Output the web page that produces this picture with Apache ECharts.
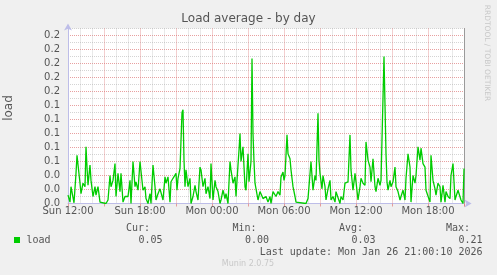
<!DOCTYPE html>
<html>
<head>
<meta charset="utf-8">
<script src="https://cdn.jsdelivr.net/npm/echarts@6/dist/echarts.min.js"></script>
<style>
html,body{margin:0;padding:0;background:#F0F0F0;}
#c{width:497px;height:275px;}
</style>
</head>
<body>
<div id="c"></div>
<script>
// Minutes after Sun 12:00, load average
const sampleMinutes = [
  0,10,15,30,40,45,50,60,65,75,85,90,95,100,110,115,125,135,140,150,
  160,165,190,200,210,215,225,235,240,250,260,265,275,285,300,310,315,325,335,340,
  350,360,365,375,385,390,400,410,415,425,435,440,450,460,465,475,485,490,500,510,
  515,525,535,540,545,550,560,570,575,580,585,590,600,610,615,625,635,640,650,660,
  665,675,685,690,700,710,715,725,735,740,750,760,765,775,785,790,800,810,815,825,
  835,840,850,855,860,865,875,885,890,900,905,910,915,920,925,930,935,940,950,960,
  965,975,985,990,1000,1010,1015,1025,1035,1040,1050,1060,1065,1075,1080,1085,1095,1100,1110,1115,
  1125,1135,1140,1150,1190,1200,1210,1215,1225,1235,1240,1250,1255,1260,1270,1275,1285,1290,1300,1310,
  1315,1325,1335,1340,1350,1360,1365,1375,1385,1390,1400,1410,1415,1425,1435,1440,1450,1460,1465,1475,
  1485,1490,1500,1510,1515,1525,1535,1540,1550,1560,1565,1575,1580,1590,1595,1600,1610,1615,1625,1635,
  1640,1650,1660,1665,1675,1685,1690,1700,1710,1715,1725,1735,1740,1750,1760,1765,1775,1785,1790,1800,
  1810,1815,1825,1835,1840,1850,1860,1865,1875,1885,1890,1900,1910,1915,1925,1935,1940,1950,1960,1965,
  1975,1980
];
const loadValues = [
  .012,.002,.024,.001,.043,.069,.071,.029,.014,.029,.024,.081,.052,.026,.055,.033,.010,.024,.012,.024,
  .002,0,0,.005,.040,.024,.033,.057,.010,.043,.017,.043,.002,.010,.010,.033,0,.060,.024,.031,
  .019,.060,.060,.019,.024,.007,0,.014,0,.055,.024,.005,.014,.021,.019,.005,.038,.029,.038,.002,
  .031,.036,.036,.043,.019,.036,.050,.130,.134,.062,.024,.048,.024,.036,0,.010,.026,.017,.005,.052,
  .048,.024,.036,.014,.024,.007,.057,.005,.033,.024,.017,0,.005,.019,.007,.014,0,.060,.048,.029,
  .038,.010,.055,.076,.100,.060,.081,.024,.019,.071,.031,.031,.060,.207,.100,.060,.029,.031,.005,.017,
  .019,.007,.005,.010,.002,.010,0,.017,.019,.010,.017,.012,.038,.045,.033,.040,.098,.071,.064,.048,
  .024,.010,.002,0,0,.007,.005,.060,.019,.040,.033,.129,.062,.043,.021,.040,.024,.005,.021,.033,
  .005,.010,.002,.017,.019,0,.010,.005,.029,.029,.031,.098,.048,.019,.043,.031,.005,.024,.036,.029,
  .026,.088,.062,.052,.031,.064,.024,.017,.036,.026,.033,.031,.210,.071,.031,.019,.033,.024,.031,.052,
  .024,.017,.005,.010,.019,.005,.036,.071,.052,.002,.040,.029,.040,.081,.062,.079,.057,.052,.019,.017,
  .002,.069,.033,.021,.012,.029,.024,.002,.026,.002,.017,.010,.007,.040,.057,.005,.010,.019,.019,.005,
  0,.050
];
const xTickLabels = ['Sun 12:00','Sun 18:00','Mon 00:00','Mon 06:00','Mon 12:00','Mon 18:00'];
const legendHeaders = ['Cur:','Min:','Avg:','Max:'];
const legendStats = ['0.05','0.00','0.03','0.21'];
const seriesName = 'load';
const titleText = 'Load average - by day';
const yAxisTitle = 'load';
const lastUpdate = 'Last update: Mon Jan 26 21:00:10 2026';
const footer = 'Munin 2.0.75';
const sideText = 'RRDTOOL / TOBI OETIKER';

const data = sampleMinutes.map((m, i) => [m, loadValues[i]]);

const RED = 'rgba(222,120,120,0.7)';
const GRAY = 'rgba(170,170,170,0.5)';
const AXIS = '#BDBDE8';
const TXT = '#555';
const MONO = '"DejaVu Sans Mono", monospace';
const SANS = '"DejaVu Sans", sans-serif';

const chart = echarts.init(document.getElementById('c'), null, {renderer: 'canvas'});

const legendCols = [150, 256.5, 363, 470];
const statCols = [162.5, 269, 375.5, 482.5];
const graphics = [
  {type: 'text', x: 248.5, y: 19, style: {text: titleText, fill: TXT, font: '12px ' + SANS, align: 'center', verticalAlign: 'middle'}},
  {type: 'text', x: 9, y: 108, rotation: Math.PI / 2, style: {text: yAxisTitle, fill: TXT, font: '12px ' + SANS, align: 'center', verticalAlign: 'middle'}},
  {type: 'text', x: 487, y: 53, rotation: -Math.PI / 2, style: {text: sideText, fill: '#C8C8C8', font: '7.5px ' + SANS, align: 'center', verticalAlign: 'middle'}},
  {type: 'rect', shape: {x: 14, y: 237, width: 6, height: 6}, style: {fill: '#00CC00'}},
  {type: 'text', x: 26.5, y: 240, style: {text: seriesName, fill: TXT, font: '10px ' + MONO, align: 'left', verticalAlign: 'middle'}},
  {type: 'text', x: 482.5, y: 252, style: {text: lastUpdate, fill: TXT, font: '10px ' + MONO, align: 'right', verticalAlign: 'middle'}},
  {type: 'text', x: 248, y: 263.5, style: {text: footer, fill: '#C8C8C8', font: '8px ' + SANS, align: 'center', verticalAlign: 'middle'}}
];
legendHeaders.forEach((h, i) => graphics.push({type: 'text', x: legendCols[i], y: 228.5, style: {text: h, fill: TXT, font: '10px ' + MONO, align: 'right', verticalAlign: 'middle'}}));
legendStats.forEach((s, i) => graphics.push({type: 'text', x: statCols[i], y: 240, style: {text: s, fill: TXT, font: '10px ' + MONO, align: 'right', verticalAlign: 'middle'}}));

chart.setOption({
  animation: false,
  backgroundColor: '#F0F0F0',
  grid: {left: 68, top: 28.5, right: 32.4, bottom: 71.5, show: true, backgroundColor: '#FFFFFF', borderWidth: 0},
  xAxis: {
    type: 'value', min: 0, max: 1983, interval: 180,
    axisLine: {show: true, lineStyle: {color: AXIS, width: 1}, symbol: ['none', 'arrow'], symbolSize: [6, 7], symbolOffset: [0, 7]},
    axisTick: {show: true, length: 3, lineStyle: {color: RED}},
    axisLabel: {
      margin: 3, color: TXT, fontFamily: SANS, fontSize: 10,
      formatter: v => (v % 360 === 0 && v / 360 < xTickLabels.length) ? xTickLabels[v / 360] : ''
    },
    splitLine: {show: true, lineStyle: {color: RED, type: [1, 1], width: 1}},
    minorTick: {show: false, splitNumber: 3},
    minorSplitLine: {show: true, lineStyle: {color: GRAY, type: [1, 1], width: 1}}
  },
  yAxis: [{
    type: 'value', min: 0, max: 0.25, interval: 0.01,
    axisLine: {show: true, lineStyle: {color: AXIS, width: 1}, symbol: ['none', 'arrow'], symbolSize: [6, 7], symbolOffset: [0, 5]},
    axisTick: {show: false},
    axisLabel: {
      margin: 8, color: TXT, fontFamily: SANS, fontSize: 10,
      formatter: v => { const k = Math.round(v * 100); return (k % 2 === 0 && k <= 24) ? v.toFixed(1) : ''; }
    },
    splitLine: {show: true, lineStyle: {color: [RED, GRAY], type: [1, 1], width: 1}}
  }, {
    type: 'value', min: 0, max: 0.25, position: 'right',
    axisLine: {show: true, lineStyle: {color: '#9A9A9A', width: 1}},
    axisTick: {show: false}, axisLabel: {show: false}, splitLine: {show: false}
  }],
  series: [{
    name: seriesName, type: 'line', data: data, showSymbol: false, symbol: 'none',
    lineStyle: {color: '#00CC00', width: 1.3}, z: 5
  }],
  graphic: graphics
});
</script>
</body>
</html>
